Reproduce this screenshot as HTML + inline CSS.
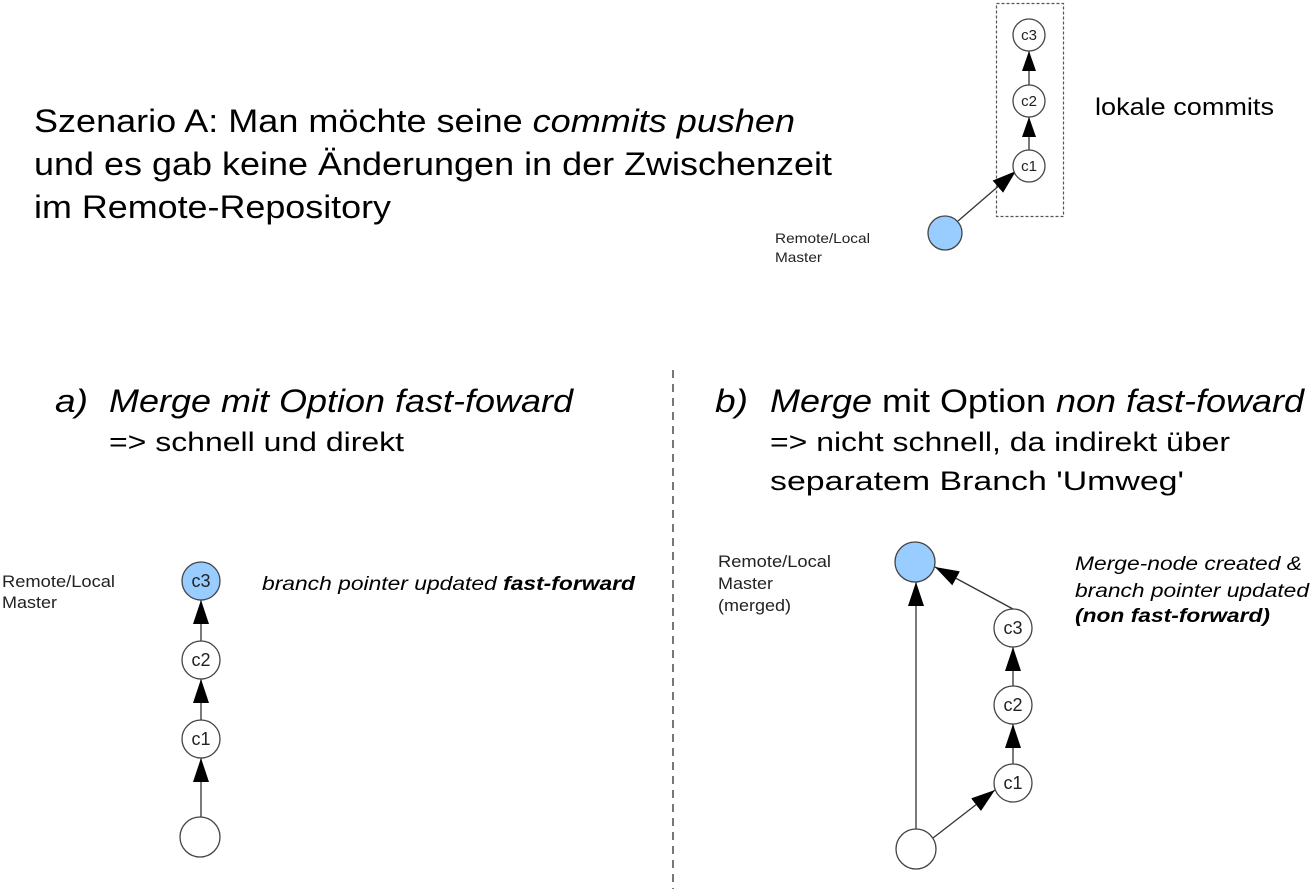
<!DOCTYPE html>
<html><head><meta charset="utf-8"><style>
html,body{margin:0;padding:0;background:#fff;}
svg{display:block;font-family:"Liberation Sans",sans-serif;}
</style></head><body>
<svg width="1314" height="889" viewBox="0 0 1314 889" xmlns="http://www.w3.org/2000/svg">
<defs>
<marker id="ah" markerWidth="24" markerHeight="16" refX="24" refY="8" orient="auto" markerUnits="userSpaceOnUse" viewBox="0 0 24 16">
<path d="M0,0 L24,8 L0,16 Z" fill="#000"/>
</marker>
<marker id="ahs" markerWidth="20" markerHeight="14" refX="20" refY="7" orient="auto" markerUnits="userSpaceOnUse" viewBox="0 0 20 14">
<path d="M0,0 L20,7 L0,14 Z" fill="#000"/>
</marker>
</defs>
<g fill="#000" font-size="32">
<text x="34" y="132" textLength="761" lengthAdjust="spacingAndGlyphs">Szenario A: Man möchte seine <tspan font-style="italic">commits pushen</tspan></text>
<text x="34" y="175" textLength="798" lengthAdjust="spacingAndGlyphs">und es gab keine Änderungen in der Zwischenzeit</text>
<text x="34" y="218" textLength="357" lengthAdjust="spacingAndGlyphs">im Remote-Repository</text>
<text x="1095" y="115" font-size="24" textLength="179" lengthAdjust="spacingAndGlyphs">lokale commits</text>
<text x="55" y="412" font-style="italic" textLength="33" lengthAdjust="spacingAndGlyphs">a)</text>
<text x="109" y="412" font-style="italic" textLength="464" lengthAdjust="spacingAndGlyphs">Merge mit Option fast-foward</text>
<text x="109" y="451" font-size="27" textLength="295" lengthAdjust="spacingAndGlyphs">=&gt; schnell und direkt</text>
<text x="715" y="412" font-style="italic" textLength="33" lengthAdjust="spacingAndGlyphs">b)</text>
<text x="770" y="412" textLength="534" lengthAdjust="spacingAndGlyphs"><tspan font-style="italic">Merge</tspan> mit Option <tspan font-style="italic">non fast-foward</tspan></text>
<text x="770" y="451" font-size="27" textLength="460" lengthAdjust="spacingAndGlyphs">=&gt; nicht schnell, da indirekt über</text>
<text x="770" y="490" font-size="27" textLength="414" lengthAdjust="spacingAndGlyphs">separatem Branch 'Umweg'</text>
</g>
<g fill="#222" font-size="14">
<text x="775" y="243" textLength="95" lengthAdjust="spacingAndGlyphs">Remote/Local</text>
<text x="775" y="262" textLength="47" lengthAdjust="spacingAndGlyphs">Master</text>
</g>
<g fill="#222" font-size="17">
<text x="2" y="587" textLength="113" lengthAdjust="spacingAndGlyphs">Remote/Local</text>
<text x="2" y="608" textLength="55" lengthAdjust="spacingAndGlyphs">Master</text>
<text x="718" y="567" textLength="113" lengthAdjust="spacingAndGlyphs">Remote/Local</text>
<text x="718" y="589" textLength="55" lengthAdjust="spacingAndGlyphs">Master</text>
<text x="718" y="611" textLength="73" lengthAdjust="spacingAndGlyphs">(merged)</text>
</g>
<g fill="#000" font-size="19" font-style="italic">
<text x="262" y="590" textLength="373" lengthAdjust="spacingAndGlyphs">branch pointer updated <tspan font-weight="bold">fast-forward</tspan></text>
<text x="1075" y="570" textLength="227" lengthAdjust="spacingAndGlyphs">Merge-node created &amp;</text>
<text x="1075" y="597" textLength="234" lengthAdjust="spacingAndGlyphs">branch pointer updated</text>
<text x="1075" y="622" font-weight="bold" textLength="195" lengthAdjust="spacingAndGlyphs">(non fast-forward)</text>
</g>
<line x1="673" y1="370" x2="673" y2="889" stroke="#777" stroke-width="2" stroke-dasharray="8,6"/>
<rect x="996.5" y="3.5" width="67" height="213" fill="none" stroke="#555" stroke-width="1.2" stroke-dasharray="3,2"/>
<g stroke="#333" stroke-width="1.3">
<line x1="1029" y1="85" x2="1029" y2="51" marker-end="url(#ahs)"/>
<line x1="1029" y1="150" x2="1029" y2="117" marker-end="url(#ahs)"/>
<line x1="958" y1="221" x2="1016" y2="171" marker-end="url(#ah)"/>
<line x1="201" y1="641" x2="201" y2="600" marker-end="url(#ah)"/>
<line x1="201" y1="720" x2="201" y2="679" marker-end="url(#ah)"/>
<line x1="201" y1="817" x2="201" y2="758" marker-end="url(#ah)"/>
<line x1="1013" y1="686" x2="1013" y2="647" marker-end="url(#ah)"/>
<line x1="1013" y1="764" x2="1013" y2="724" marker-end="url(#ah)"/>
<line x1="1013" y1="609" x2="935" y2="567" marker-end="url(#ah)"/>
<line x1="916" y1="829" x2="916" y2="582" marker-end="url(#ah)"/>
<line x1="933" y1="838" x2="995" y2="790" marker-end="url(#ah)"/>
</g>
<g stroke="#444" stroke-width="1.3">
<circle cx="1029" cy="35" r="16" fill="#fff"/>
<circle cx="1029" cy="101" r="16" fill="#fff"/>
<circle cx="1029" cy="166" r="16" fill="#fff"/>
<circle cx="945" cy="233" r="17" fill="#99ccff"/>
<circle cx="201" cy="581" r="19" fill="#99ccff"/>
<circle cx="201" cy="660" r="19" fill="#fff"/>
<circle cx="201" cy="739" r="19" fill="#fff"/>
<circle cx="200" cy="837" r="20" fill="#fff"/>
<circle cx="915" cy="562" r="20" fill="#99ccff"/>
<circle cx="1013" cy="628" r="19" fill="#fff"/>
<circle cx="1013" cy="705" r="19" fill="#fff"/>
<circle cx="1013" cy="783" r="19" fill="#fff"/>
<circle cx="916" cy="849" r="20" fill="#fff"/>
</g>
<g fill="#222" font-size="15" text-anchor="middle">
<text x="1029" y="40">c3</text>
<text x="1029" y="106">c2</text>
<text x="1029" y="171">c1</text>
</g>
<g fill="#222" font-size="18" text-anchor="middle">
<text x="201" y="587">c3</text>
<text x="201" y="666">c2</text>
<text x="201" y="745">c1</text>
<text x="1013" y="634">c3</text>
<text x="1013" y="711">c2</text>
<text x="1013" y="789">c1</text>
</g>
</svg>
</body></html>
